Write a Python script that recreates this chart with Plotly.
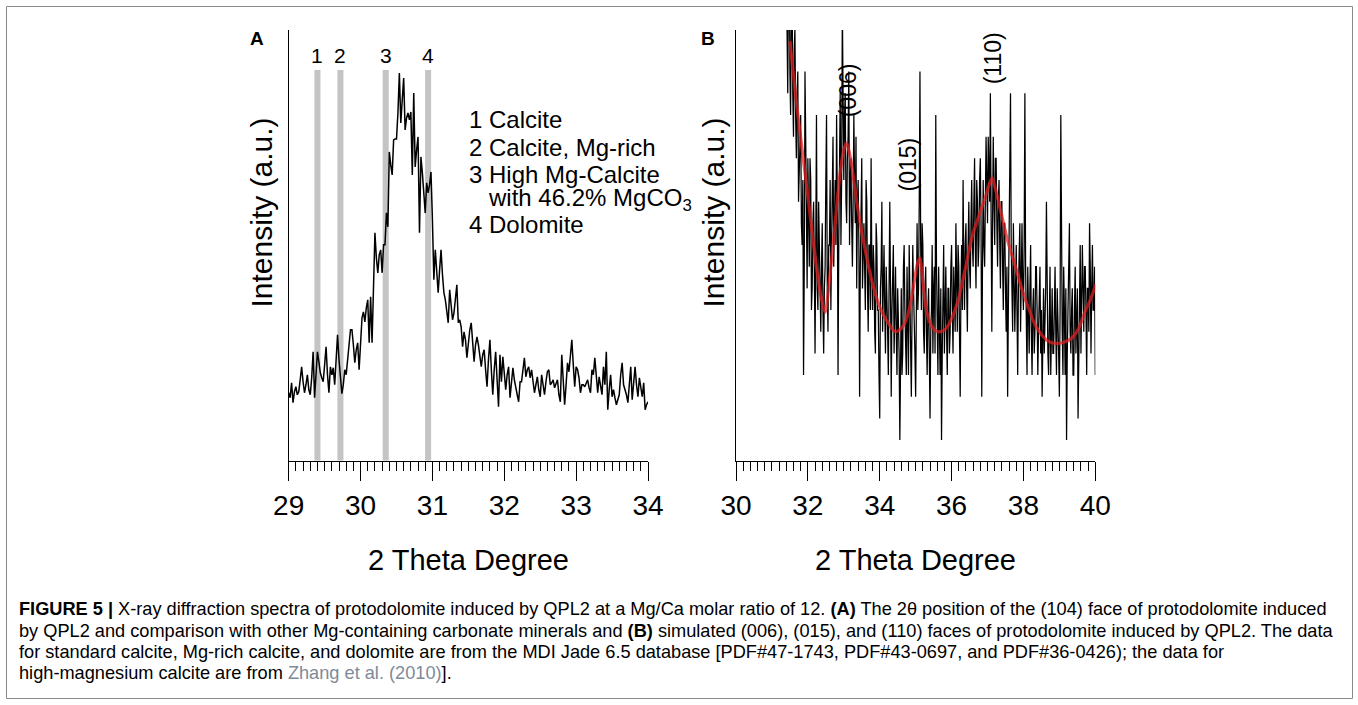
import plotly.graph_objects as go

W, H = 1358, 705

# ---------------- Panel A: (104) region, 29-34 deg 2theta ----------------
SCAN_A_START = 29.0
SCAN_A_STEP = 0.02
INTENSITY_A = [
    68, 63, 78, 58, 69, 74, 66, 69, 81, 94,
    79, 68, 76, 86, 71, 66, 83, 109, 63, 89,
    109, 99, 88, 83, 79, 96, 114, 86, 68, 94,
    86, 93, 76, 101, 126, 101, 86, 67, 76, 91,
    86, 98, 116, 131, 131, 116, 98, 111, 118, 91,
    126, 143, 149, 139, 153, 161, 118, 164, 118, 181,
    228, 203, 188, 206, 211, 188, 216, 216, 248, 234,
    309, 296, 286, 321, 322, 322, 348, 388, 338, 361,
    383, 331, 343, 348, 341, 349, 286, 368, 294, 311,
    324, 228, 304, 288, 266, 248, 278, 268, 276, 289,
    241, 181, 211, 191, 168, 191, 211, 186, 168, 161,
    151, 138, 171, 156, 141, 148, 161, 176, 138, 141,
    134, 114, 129, 121, 103, 121, 131, 138, 116, 99,
    116, 124, 116, 103, 94, 106, 111, 91, 74, 101,
    121, 91, 66, 91, 109, 81, 54, 106, 79, 104,
    86, 71, 86, 94, 63, 81, 93, 81, 71, 66,
    59, 79, 79, 91, 103, 84, 91, 94, 83, 91,
    76, 68, 76, 84, 71, 64, 86, 76, 66, 79,
    89, 91, 76, 78, 81, 73, 78, 81, 66, 59,
    106, 81, 56, 76, 98, 89, 106, 121, 96, 74,
    94, 91, 83, 68, 76, 76, 74, 78, 81, 73,
    68, 91, 86, 103, 81, 68, 84, 76, 66, 94,
    76, 109, 51, 71, 86, 64, 71, 63, 56, 61,
    66, 86, 98, 76, 71, 66, 58, 76, 94, 61,
    81, 94, 76, 64, 83, 71, 64, 78, 51, 56,
    59,
]
TWO_THETA_A = [round(SCAN_A_START + SCAN_A_STEP * k, 2) for k in range(len(INTENSITY_A))]

# standard reflections of the reference minerals
REF_POSITIONS = [29.40, 29.72, 30.35, 30.94]
REF_NUMBERS = ["1", "2", "3", "4"]
PHASE_LINES = [
    "1 Calcite",
    "2 Calcite, Mg-rich",
    "3 High Mg-Calcite",
    "with 46.2% MgCO<sub>3</sub>",
    "4 Dolomite",
]

# ---------------- Panel B: 30-40 deg 2theta with simulated profile ----------------
SCAN_B_START = 31.40
SCAN_B_STEP = 0.02
COUNTS_B = [
    22, 18, 16, 21, 23, 17, 15, 20, 21, 16, 14, 18, 19, 15, 13, 16, 17, 11, 12, 14,
    15, 10, 9, 12, 3, 8, 17, 14, 10, 7, 13, 11, 8, 13, 12, 6, 7, 10, 11, 8,
    4, 9, 15, 7, 6, 11, 9, 5, 5, 8, 10, 6, 4, 7, 8, 12, 15, 7, 5, 9,
    9, 12, 6, 9, 11, 14, 8, 10, 12, 9, 15, 11, 3, 9, 13, 16, 9, 12, 20, 14,
    12, 15, 16, 11, 10, 13, 14, 17, 9, 12, 13, 10, 8, 11, 15, 12, 10, 14, 7, 11,
    12, 9, 2, 8, 11, 13, 7, 10, 10, 8, 6, 12, 11, 7, 5, 9, 9, 6, 13, 8,
    6, 9, 8, 5, 4, 10, 9, 6, 6, 3, 1, 7, 8, 11, 5, 7, 9, 6, 4, 8,
    7, 5, 3, 6, 11, 7, 2, 6, 7, 9, 4, 6, 8, 5, 3, 7, 6, 4, 0, 5,
    7, 3, 4, 8, 9, 6, 5, 3, 8, 6, 3, 9, 7, 5, 2, 6, 9, 7, 6, 4,
    2, 8, 10, 6, 7, 11, 17, 9, 6, 10, 9, 5, 4, 7, 8, 5, 3, 6, 7, 4,
    1, 5, 6, 9, 4, 7, 8, 4, 15, 8, 5, 3, 8, 6, 3, 7, 0, 4, 6, 9,
    4, 6, 8, 5, 3, 7, 7, 4, 5, 8, 9, 6, 4, 8, 7, 5, 10, 7, 5, 9,
    8, 5, 2, 7, 9, 6, 12, 8, 6, 9, 10, 7, 5, 9, 11, 8, 7, 10, 12, 9,
    8, 11, 13, 9, 7, 12, 11, 8, 9, 12, 13, 10, 2, 8, 12, 9, 8, 11, 14, 12,
    10, 14, 13, 11, 16, 12, 5, 10, 14, 11, 9, 13, 13, 10, 8, 11, 12, 9, 7, 11,
    11, 8, 6, 10, 10, 7, 5, 8, 2, 6, 9, 11, 16, 9, 7, 5, 10, 8, 5, 7,
    9, 6, 3, 7, 8, 10, 5, 8, 10, 7, 6, 9, 16, 8, 5, 3, 8, 6, 4, 7,
    9, 5, 3, 6, 7, 4, 5, 8, 8, 6, 3, 5, 6, 8, 4, 6, 2, 5, 7, 4,
    5, 7, 11, 6, 4, 3, 6, 8, 3, 5, 7, 4, 4, 6, 8, 5, 3, 7, 6, 4,
    2, 6, 15, 8, 5, 3, 8, 6, 3, 7, 0, 4, 6, 9, 10, 5, 4, 6, 7, 3,
    3, 6, 8, 4, 5, 7, 1, 5, 7, 9, 4, 6, 9, 7, 5, 8, 8, 6, 3, 7,
    7, 5, 10, 8, 4, 7, 9, 6, 6, 8, 3,
]
TWO_THETA_B = [round(SCAN_B_START + SCAN_B_STEP * k, 2) for k in range(len(COUNTS_B))]

# simulated profile: (006), (015) and (110) reflections on the background
FIT_B_X = [31.50, 31.68, 31.87, 32.02, 32.15, 32.34, 32.48, 32.60, 32.71, 32.89,
           33.00, 33.08, 33.15, 33.22, 33.36, 33.50, 33.64, 33.82, 34.01, 34.20,
           34.43, 34.62, 34.75, 34.88, 34.98, 35.06, 35.12, 35.19, 35.31, 35.45,
           35.62, 35.82, 36.00, 36.19, 36.38, 36.56, 36.75, 36.93, 37.05, 37.13,
           37.22, 37.39, 37.56, 37.76, 37.95, 38.14, 38.33, 38.51, 38.70, 38.88,
           39.10, 39.34, 39.55, 39.71, 39.87, 40.02]
FIT_B_Y = [18.4, 15.6, 13.0, 11.0, 9.15, 6.85, 5.9, 7.4, 9.15, 12.2,
           13.4, 13.7, 13.3, 12.7, 11.0, 9.6, 8.4, 7.1, 6.1, 5.5,
           5.0, 5.2, 5.6, 6.5, 7.5, 8.2, 8.4, 7.5, 5.9, 5.25,
           5.0, 5.1, 5.6, 6.5, 7.9, 9.3, 10.3, 11.15, 11.8, 12.1,
           11.6, 10.4, 9.2, 8.1, 7.0, 6.1, 5.3, 4.85, 4.55, 4.46,
           4.5, 4.7, 5.2, 5.9, 6.5, 7.2]
FACE_LABELS = ["(006)", "(015)", "(110)"]

CAPTION_LINES = [
    "<b>FIGURE 5 |</b> X-ray diffraction spectra of protodolomite induced by QPL2 at a Mg/Ca molar ratio of 12. "
    "<b>(A)</b> The 2θ position of the (104) face of protodolomite induced",
    "by QPL2 and comparison with other Mg-containing carbonate minerals and <b>(B)</b> simulated (006), (015), "
    "and (110) faces of protodolomite induced by QPL2. The data",
    "for standard calcite, Mg-rich calcite, and dolomite are from the MDI Jade 6.5 database "
    "[PDF#47-1743, PDF#43-0697, and PDF#36-0426); the data for",
    "high-magnesium calcite are from <span style='color:#7d8b99'>Zhang et al. (2010)</span>].",
]

FONT = "Liberation Sans, Arial, Helvetica, sans-serif"


def fx(p):
    """pixel column -> paper x"""
    return p / W


def fy(p):
    """pixel row -> paper y"""
    return 1 - p / H


fig = go.Figure()

fig.add_trace(go.Scatter(x=TWO_THETA_A, y=INTENSITY_A, mode="lines",
                         line=dict(color="black", width=1.5), xaxis="x", yaxis="y"))
fig.add_trace(go.Scatter(x=TWO_THETA_B, y=COUNTS_B, mode="lines",
                         line=dict(color="black", width=1.25), xaxis="x2", yaxis="y2"))
fig.add_trace(go.Scatter(x=FIT_B_X, y=FIT_B_Y, mode="lines",
                         line=dict(color="rgba(232,30,30,0.72)", width=3.2, shape="spline", smoothing=0.8),
                         xaxis="x2", yaxis="y2"))

plot_top, plot_bottom = 30, 460.7
common_x = dict(
    showline=True, linecolor="black", linewidth=1.4, mirror=False,
    ticks="outside", ticklen=19, tickwidth=1.4, tickcolor="black",
    tickfont=dict(family=FONT, size=28, color="black"),
    showgrid=False, zeroline=False, automargin=False, ticklabelstandoff=0,
)
common_y = dict(
    showline=True, linecolor="black", linewidth=1.4, ticks="", showticklabels=False,
    showgrid=False, zeroline=False, automargin=False,
    domain=[fy(plot_bottom), fy(plot_top)],
)

fig.update_layout(
    width=W, height=H, autosize=False, template="none",
    margin=dict(l=0, r=0, t=0, b=0, pad=0),
    paper_bgcolor="white", plot_bgcolor="rgba(0,0,0,0)",
    showlegend=False, font=dict(family=FONT, color="black"),
    xaxis=dict(common_x, domain=[fx(288.7), fx(648.0)], range=[29, 34], anchor="y",
               tick0=29, dtick=1,
               minor=dict(ticks="outside", tick0=29, dtick=0.1, ticklen=9, tickwidth=1.2,
                          tickcolor="black", showgrid=False)),
    yaxis=dict(common_y, range=[0, 431], anchor="x"),
    xaxis2=dict(common_x, domain=[fx(736.0), fx(1095.3)], range=[30, 40], anchor="y2",
                tick0=30, dtick=2,
                minor=dict(ticks="outside", tick0=30, dtick=0.2, ticklen=9, tickwidth=1.2,
                           tickcolor="black", showgrid=False)),
    yaxis2=dict(common_y, range=[-0.95, 18.92], anchor="x2"),
)

shapes = []
# reference-mineral bands in panel A
for pos in REF_POSITIONS:
    shapes.append(dict(type="rect", xref="x", yref="y", x0=pos - 0.042, x1=pos + 0.042,
                       y0=0, y1=391, fillcolor="#c4c4c4", line=dict(width=0), layer="below"))
# figure frame
shapes.append(dict(type="rect", xref="paper", yref="paper", x0=fx(6.5), x1=fx(1352.5),
                   y0=fy(698.5), y1=fy(6.5), line=dict(color="#8a8a8a", width=1),
                   fillcolor="rgba(0,0,0,0)"))
fig.update_layout(shapes=shapes)

ann = []


def text(x, y, s, size, xanchor="center", yanchor="middle", angle=0, color="black", ref="paper"):
    d = dict(x=x, y=y, text=s, showarrow=False, xanchor=xanchor, yanchor=yanchor,
             textangle=angle, font=dict(family=FONT, size=size, color=color))
    if ref == "paper":
        d.update(xref="paper", yref="paper")
    else:
        d.update(xref=ref[0], yref=ref[1])
    ann.append(d)


# panel letters
text(fx(256.7), fy(38.5), "<b>A</b>", 19)
text(fx(708.0), fy(39.0), "<b>B</b>", 19)

# band numbers above panel A bands
for pos, num in zip(REF_POSITIONS, REF_NUMBERS):
    text(pos, 405, num, 21, ref=("x", "y"))

# phase list in panel A
phase_rows = [118, 147, 173, 198, 223]
for row, line in zip(phase_rows, PHASE_LINES):
    left = 486.0 if line.startswith("with") else 466.5
    text(fx(left), fy(row + 1), line, 24, xanchor="left")

# reflection labels in panel B
face_pos = [(847.5, 90.8), (908.3, 164.2), (993.0, 58.3)]
for (px, py), lab in zip(face_pos, FACE_LABELS):
    text(fx(px), fy(py), lab, 23, angle=-90)

# axis titles
for cx in (261.0, 713.0):
    text(fx(cx), fy(212.5), "Intensity (a.u.)", 30, angle=-90)
for cx in (468.3, 915.7):
    text(fx(cx), fy(560.0), "2 Theta Degree", 29)

# caption
for row, line in zip([609, 631, 652, 673], CAPTION_LINES):
    text(fx(17.0), fy(row), line, 18.2, xanchor="left")

fig.update_layout(annotations=ann)

fig.write_html("out.html")
